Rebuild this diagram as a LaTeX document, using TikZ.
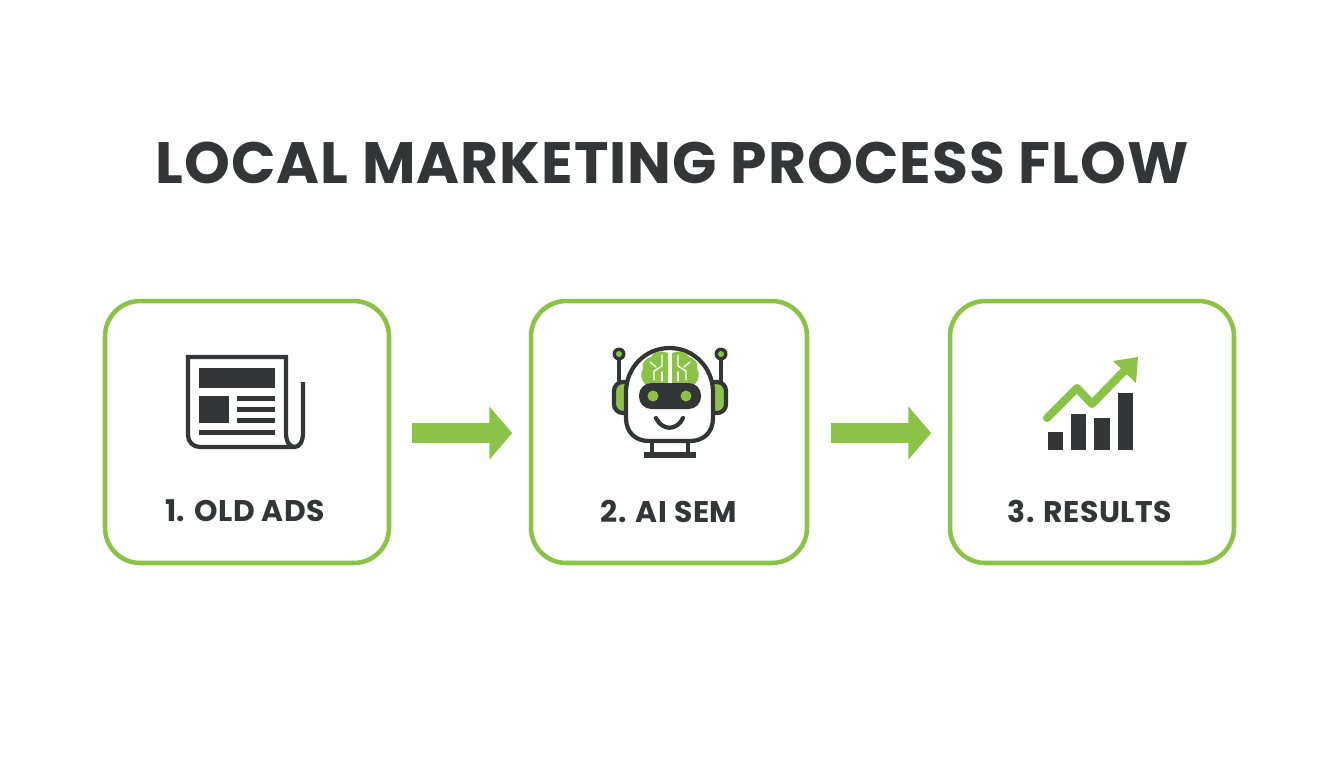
\documentclass[tikz,border=0pt]{standalone}
\usepackage{fontspec}
\setmainfont{Poppins}
\usepackage{xcolor}
\usetikzlibrary{arrows.meta,positioning}
\definecolor{leafgreen}{HTML}{8AC346}
\definecolor{inkgrey}{HTML}{333537}

\begin{document}
\begin{tikzpicture}[x=0.02cm,y=-0.02cm,
    stagebox/.style={draw=leafgreen, line width=2.6pt, rounded corners=20pt, fill=white, minimum height=5.24cm},
    stagelabel/.style={text=inkgrey, font=\fontsize{17}{20}\selectfont\bfseries\addfontfeature{LetterSpace=1.7}},
    flowarrow/.style={draw=leafgreen, line width=11.3pt, -{Triangle[length=13pt,width=29.5pt,fill=leafgreen]}},
    inkline/.style={draw=inkgrey, line width=2.4pt},
    inkfill/.style={fill=inkgrey},
    brainline/.style={draw=white, line width=0.8pt, line cap=round, line join=round}]
    \useasboundingbox (0,0) rectangle (1344,768);

    \node[text=inkgrey, font=\fontsize{33.2}{38}\selectfont\bfseries\addfontfeature{LetterSpace=1.8}] (title) at (672,163) {LOCAL MARKETING PROCESS FLOW};

    \node[stagebox, minimum width=5.68cm] (box1) at (247,432) {};
    \node[stagebox, minimum width=5.52cm] (box2) at (669,432) {};
    \node[stagebox, minimum width=5.68cm] (box3) at (1092,432) {};

    \node[stagelabel] (label1) at (245,511) {1. OLD ADS};
    \node[stagelabel] (label2) at (669,511) {2. AI SEM};
    \node[stagelabel] (label3) at (1090,511) {3. RESULTS};

    \draw[flowarrow, shorten <=12pt, shorten >=9.4pt] ([yshift=-0.6pt]box1.east) -- ([yshift=-0.6pt]box2.west);
    \draw[flowarrow, shorten <=12.6pt, shorten >=9.4pt] ([yshift=-0.6pt]box2.east) -- ([yshift=-0.6pt]box3.west);

    % newspaper
    \draw[inkline, line join=miter] (303,382) -- (303,433) .. controls (303,442) and (299,447) .. (294.5,447) .. controls (290,447) and (286,442) .. (286,433) -- (286,357) -- (188,357) -- (188,435) .. controls (188,442) and (193,447) .. (200,447) -- (295,447);
    \fill[inkfill] (199,368) rectangle (275,388);
    \fill[inkfill] (199,396) rectangle (229,423);
    \fill[inkfill] (237,396) rectangle (275,401);
    \fill[inkfill] (237,407) rectangle (275,412);
    \fill[inkfill] (237,418) rectangle (275,423);
    \fill[inkfill] (199,430) rectangle (275,434.5);

    % robot
    \draw[inkline] (619,354) -- (619,384);
    \draw[inkline] (721,354) -- (721,384);
    \fill[inkfill] (619,354) circle (6.5);
    \fill[inkfill] (721,354) circle (6.5);
    \fill[leafgreen] (619,354) circle (3);
    \fill[leafgreen] (721,354) circle (3);
    \draw[inkline, fill=leafgreen, rounded corners=5pt] (626,382) -- (614,382) -- (614,413) -- (626,413);
    \draw[inkline, fill=leafgreen, rounded corners=5pt] (713,382) -- (726,382) -- (726,413) -- (713,413);
    \draw[inkline, fill=white] (626,392) .. controls (626,368) and (645,348) .. (669.5,348) .. controls (694,348) and (713,368) .. (713,392) -- (713,418) .. controls (713,433) and (703,441) .. (690,441) -- (649,441) .. controls (636,441) and (626,433) .. (626,418) -- cycle;
    % brain
    \fill[leafgreen] (668,353) .. controls (660,350) and (653,352) .. (651,357) .. controls (645,358) and (641,364) .. (643,369) .. controls (640,373) and (641,380) .. (645,384) -- (668,384) -- cycle;
    \fill[leafgreen] (672,353) .. controls (680,350) and (687,352) .. (689,357) .. controls (695,358) and (699,364) .. (697,369) .. controls (700,373) and (699,380) .. (695,384) -- (672,384) -- cycle;
    \draw[brainline] (662,355) -- (662,366) -- (654,371) -- (654,380);
    \draw[brainline] (650,362) -- (656,367);
    \draw[brainline] (662,372) -- (662,381);
    \draw[brainline] (678,355) -- (678,366) -- (686,371) -- (686,380);
    \draw[brainline] (690,362) -- (684,367);
    \draw[brainline] (678,372) -- (678,381);
    \fill[inkfill, rounded corners=7pt] (639,383) rectangle (701,409);
    \fill[leafgreen] (653,396) circle (5.5);
    \fill[leafgreen] (686,396) circle (5.5);
    \draw[inkline, line cap=round] (656,418) .. controls (662,431) and (677,431) .. (683,418);
    \draw[inkline] (652,441) -- (652,455);
    \draw[inkline] (688,441) -- (688,455);
    \draw[inkline, line width=3pt] (644,455) -- (696,455);

    % chart
    \fill[inkfill] (1048,432) rectangle (1063,450);
    \fill[inkfill] (1071,414) rectangle (1086,450);
    \fill[inkfill] (1094,418) rectangle (1110,450);
    \fill[inkfill] (1118,393) rectangle (1133,450);
    \draw[leafgreen, line width=4.6pt, line join=round, line cap=round] (1047,418) -- (1077,388) -- (1092,404) -- (1125,370);
    \fill[leafgreen] (1138,357) -- (1113,361) -- (1136,383) -- cycle;
\end{tikzpicture}
\end{document}
